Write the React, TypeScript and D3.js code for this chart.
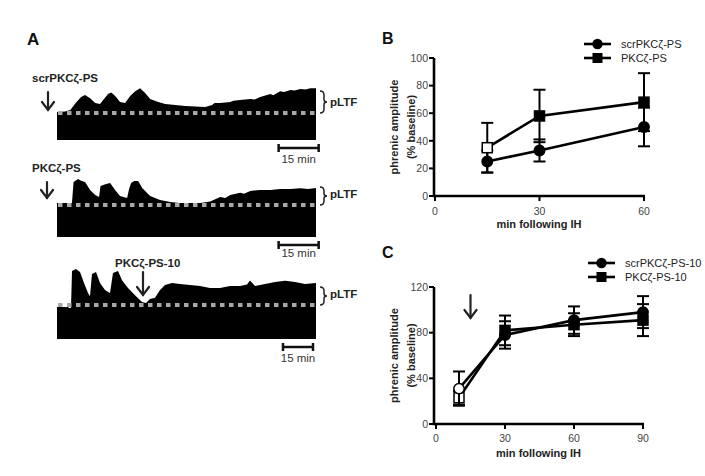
import React from "react";
import * as d3 from "d3";

// ---------- Data ----------
// Panel A traces: [time (min), integrated phrenic amplitude (% baseline)]
const TRACE1: [number, number][] = [
  [0, 104], [3, 106], [5, 111], [7, 137], [9, 159], [10.5, 167], [12.4, 155], [14.3, 137], [16.1, 133],
  [17.3, 148], [19.1, 170], [20.3, 176], [21.8, 163], [23.6, 141], [25.5, 137], [27.4, 163], [29.3, 181],
  [31.1, 192], [33, 174], [34.9, 152], [37.9, 141], [40.5, 133], [44.3, 130], [48, 126], [51.8, 124],
  [55.5, 122], [58.1, 130], [59, 137], [61.1, 137], [64.9, 141], [66, 145], [68.6, 148], [72.4, 152],
  [74, 150], [76.1, 159], [79.9, 170], [81, 166], [83.6, 181], [85, 178], [87.4, 185], [89, 183],
  [91.1, 189], [93, 187], [94.9, 192], [97, 192],
];
const TRACE2: [number, number][] = [
  [0, 106], [5.6, 106], [6.2, 172], [7.9, 181], [9, 176], [10.5, 172], [12.4, 147], [14.3, 131],
  [15.75, 125], [16.3, 159], [18.4, 166], [19.9, 169], [21.75, 147], [23.6, 128], [26.25, 122],
  [27, 150], [27.75, 169], [28.9, 175], [30.4, 175], [31.9, 153], [34.9, 128], [38.6, 116],
  [42.4, 109], [46.1, 106], [49.9, 106], [53.6, 106], [57.4, 111], [61.1, 125], [63, 122], [64.9, 131],
  [68.6, 138], [70, 135], [72.4, 144], [76.1, 147], [79.9, 147], [83.6, 150], [87.4, 150],
  [91.1, 152], [94, 150], [97, 153],
];
const TRACE3: [number, number][] = [
  [0, 94], [5.5, 94], [6, 91], [7, 91], [7.5, 200], [9.5, 206], [11.5, 197], [13.5, 165], [15.5, 135],
  [16.5, 126], [17.5, 191], [19.5, 197], [21.5, 165], [24, 144], [26.5, 135], [28, 194], [30.5, 200],
  [32.5, 173], [35.5, 150], [39, 129], [42.5, 109], [44.5, 106], [46.5, 118], [49, 121], [51.5, 144],
  [54, 159], [57.5, 165], [61.5, 162], [66.5, 159], [71.5, 156], [76.5, 150], [81.5, 150], [86.5, 156],
  [91.5, 156], [95, 160], [96.5, 172], [99, 156], [104, 162], [109, 168], [114, 171], [119, 168],
  [124, 162], [129.5, 165],
];
const TRACE_DURATIONS = [97, 97, 129.5];
const TRACE_LABELS = ["scrPKCζ-PS", "PKCζ-PS", "PKCζ-PS-10"];
const SCALE_BARS: [number, number][] = [[83, 98], [83, 98], [113, 128]];

// Panel B
const B_TIMES = [15, 30, 60];
const B_SCR_MEAN = [25, 33, 50];
const B_SCR_SEM = [8, 8, 14];
const B_PS_MEAN = [35, 58, 68];
const B_PS_SEM = [18, 19, 21];
const B_XTICKS = [0, 30, 60];
const B_YTICKS = [0, 20, 40, 60, 80, 100];
const B_OPEN = [true, false, false];

// Panel C
const C_TIMES = [10, 30, 60, 90];
const C_SCR_MEAN = [31, 78, 91, 98];
const C_SCR_SEM = [15, 12, 12, 14];
const C_PS_MEAN = [23, 82, 87, 91];
const C_PS_SEM = [6, 13, 10, 14];
const C_XTICKS = [0, 30, 60, 90];
const C_YTICKS = [0, 40, 80, 120];
const C_OPEN = [true, false, false, false];
const C_ARROW_TIME = 15;

const FONT = "'Liberation Sans', Arial, Helvetica, sans-serif";

function DownArrow({ x, y1, y2 }: { x: number; y1: number; y2: number }) {
  return (
    <g stroke="#222" strokeWidth={2.2} fill="none" strokeLinecap="round">
      <line x1={x} y1={y1} x2={x} y2={y2} />
      <polyline points={`${x - 6},${y2 - 8} ${x},${y2} ${x + 6},${y2 - 8}`} />
    </g>
  );
}

function Trace(props: {
  data: [number, number][]; dur: number; bottom: number; dash: number; label: string;
  labelX: number; labelY: number; arrowX: number; arrowY1: number; arrowY2: number;
  bar: [number, number]; barY: number; textY: number; braceTop: number; pltfY: number;
}) {
  const x = d3.scaleLinear().domain([0, props.dur]).range([57, 316]);
  const y = d3.scaleLinear().domain([0, 100]).range([props.bottom, props.dash]);
  const area = d3
    .area<[number, number]>()
    .x((d) => x(d[0]))
    .y0(() => y(0))
    .y1((d) => y(d[1]));
  const bt = props.braceTop, bb = props.dash;
  const bm = (bt + bb) / 2;
  const bx = 320;
  const brace = `M${bx},${bt} Q${bx + 4},${bt} ${bx + 4},${bt + 4} L${bx + 4},${bm - 2.5} Q${bx + 4},${bm} ${bx + 7},${bm} Q${bx + 4},${bm} ${bx + 4},${bm + 2.5} L${bx + 4},${bb - 4} Q${bx + 4},${bb} ${bx},${bb}`;
  const b0 = x(props.bar[0]), b1 = x(props.bar[1]);
  return (
    <g>
      <path d={area(props.data) || ""} fill="#000" />
      <line x1={58} x2={316} y1={y(100)} y2={y(100)} stroke="#a8a8a8" strokeWidth={4} strokeDasharray="4.5 4.5" />
      <text x={props.labelX} y={props.labelY} fontSize={11.5} fontWeight="bold" fill="#222">{props.label}</text>
      <DownArrow x={props.arrowX} y1={props.arrowY1} y2={props.arrowY2} />
      <path d={brace} fill="none" stroke="#222" strokeWidth={1.5} />
      <text x={330} y={props.pltfY} fontSize={11.5} fontWeight="bold" fill="#222">pLTF</text>
      <g stroke="#111" strokeWidth={2.5}>
        <line x1={b0} x2={b1} y1={props.barY} y2={props.barY} />
        <line x1={b0} x2={b0} y1={props.barY - 4} y2={props.barY + 4} />
        <line x1={b1} x2={b1} y1={props.barY - 4} y2={props.barY + 4} />
      </g>
      <text x={(b0 + b1) / 2} y={props.textY} fontSize={11.5} textAnchor="middle" fill="#333">15 min</text>
    </g>
  );
}

function Series(props: {
  xs: d3.ScaleLinear<number, number>; ys: d3.ScaleLinear<number, number>;
  t: number[]; mean: number[]; sem: number[]; shape: "circle" | "square"; open: boolean[];
}) {
  const { xs, ys, t, mean, sem, shape, open } = props;
  const line = d3.line<number>().x((_, i) => xs(t[i])).y((d) => ys(d));
  return (
    <g>
      <g stroke="#000" strokeWidth={2}>
        {mean.map((m, i) => (
          <g key={i}>
            <line x1={xs(t[i])} x2={xs(t[i])} y1={ys(m - sem[i])} y2={ys(m + sem[i])} />
            <line x1={xs(t[i]) - 6} x2={xs(t[i]) + 6} y1={ys(m - sem[i])} y2={ys(m - sem[i])} />
            <line x1={xs(t[i]) - 6} x2={xs(t[i]) + 6} y1={ys(m + sem[i])} y2={ys(m + sem[i])} />
          </g>
        ))}
      </g>
      <path d={line(mean) || ""} fill="none" stroke="#000" strokeWidth={2.6} />
      {mean.map((m, i) =>
        shape === "circle" ? (
          <circle key={i} cx={xs(t[i])} cy={ys(m)} r={5.2} fill={open[i] ? "#fff" : "#000"} stroke="#000" strokeWidth={1.5} />
        ) : (
          <rect key={i} x={xs(t[i]) - 5} y={ys(m) - 5} width={10} height={10} fill={open[i] ? "#fff" : "#000"} stroke="#000" strokeWidth={1.5} />
        )
      )}
    </g>
  );
}

function Axes(props: {
  xs: d3.ScaleLinear<number, number>; ys: d3.ScaleLinear<number, number>;
  xticks: number[]; yticks: number[]; axisX: number; xLabelY: number; titleY: number;
}) {
  const { xs, ys, xticks, yticks, axisX, xLabelY, titleY } = props;
  const y0 = ys(ys.domain()[0]);
  const yTop = ys(ys.domain()[1]);
  const xEnd = xs(xs.domain()[1]);
  const ymid = (y0 + yTop) / 2;
  return (
    <g fontFamily={FONT}>
      <line x1={axisX} x2={axisX} y1={yTop} y2={y0 + 1.2} stroke="#000" strokeWidth={2.6} />
      <line x1={axisX} x2={xEnd + 1} y1={y0} y2={y0} stroke="#000" strokeWidth={2.6} />
      {yticks.map((v) => (
        <g key={v}>
          <line x1={axisX - 5} x2={axisX} y1={ys(v)} y2={ys(v)} stroke="#000" strokeWidth={2} />
          <text x={axisX - 6} y={ys(v) + 3.8} fontSize={10.5} textAnchor="end" fill="#444">{v}</text>
        </g>
      ))}
      {xticks.map((v) => (
        <g key={v}>
          <line x1={xs(v)} x2={xs(v)} y1={y0} y2={y0 + 5} stroke="#000" strokeWidth={2} />
          <text x={xs(v)} y={xLabelY} fontSize={10.5} textAnchor="middle" fill="#444">{v}</text>
        </g>
      ))}
      <text x={(axisX + xEnd) / 2} y={titleY} fontSize={11} fontWeight="bold" textAnchor="middle" fill="#222">min following IH</text>
      <text transform={`translate(398,${ymid}) rotate(-90)`} fontSize={11} fontWeight="bold" textAnchor="middle" fill="#222">phrenic amplitude</text>
      <text transform={`translate(415,${ymid}) rotate(-90)`} fontSize={11} fontWeight="bold" textAnchor="middle" fill="#222">(% baseline)</text>
    </g>
  );
}

function Legend({ x, y, labels }: { x: number; y: number; labels: string[] }) {
  return (
    <g fontFamily={FONT}>
      {labels.map((l, i) => {
        const yy = y + i * 14;
        return (
          <g key={l}>
            <line x1={x} x2={x + 27} y1={yy} y2={yy} stroke="#000" strokeWidth={2.6} />
            {i === 0 ? (
              <circle cx={x + 13.5} cy={yy} r={5.2} fill="#000" />
            ) : (
              <rect x={x + 8.5} y={yy - 5} width={10} height={10} fill="#000" />
            )}
            <text x={x + 37} y={yy + 4} fontSize={11} fill="#222">{l}</text>
          </g>
        );
      })}
    </g>
  );
}

export default function App() {
  const xB = d3.scaleLinear().domain([0, 60]).range([435, 644]);
  const yB = d3.scaleLinear().domain([0, 100]).range([196, 58]);
  const xC = d3.scaleLinear().domain([0, 90]).range([436, 643]);
  const yC = d3.scaleLinear().domain([0, 120]).range([424, 287]);

  const traces = [
    { data: TRACE1, bottom: 140, dash: 113, labelX: 32, labelY: 82, arrowX: 48, arrowY1: 92, arrowY2: 110, barY: 148, textY: 163, braceTop: 91, pltfY: 106 },
    { data: TRACE2, bottom: 237, dash: 205, labelX: 32, labelY: 171.5, arrowX: 47, arrowY1: 182, arrowY2: 198, barY: 245, textY: 257, braceTop: 187, pltfY: 198 },
    { data: TRACE3, bottom: 339, dash: 305, labelX: 115, labelY: 267, arrowX: 143, arrowY1: 272, arrowY2: 295, barY: 347, textY: 362, braceTop: 287, pltfY: 298 },
  ];

  return (
    <svg width={705} height={476} style={{ position: "absolute", left: 0, top: 0, background: "#fff" }} fontFamily={FONT}>
      <rect width={705} height={476} fill="#fff" />
      <text x={27} y={45} fontSize={17} fontWeight="bold" fill="#111">A</text>
      <text x={382} y={43.5} fontSize={16} fontWeight="bold" fill="#111">B</text>
      <text x={382} y={258} fontSize={16} fontWeight="bold" fill="#111">C</text>

      {traces.map((tr, i) => (
        <Trace
          key={i}
          data={tr.data}
          dur={TRACE_DURATIONS[i]}
          bottom={tr.bottom}
          dash={tr.dash}
          label={TRACE_LABELS[i]}
          labelX={tr.labelX}
          labelY={tr.labelY}
          arrowX={tr.arrowX}
          arrowY1={tr.arrowY1}
          arrowY2={tr.arrowY2}
          bar={SCALE_BARS[i]}
          barY={tr.barY}
          textY={tr.textY}
          braceTop={tr.braceTop}
          pltfY={tr.pltfY}
        />
      ))}

      <Axes xs={xB} ys={yB} xticks={B_XTICKS} yticks={B_YTICKS} axisX={434} xLabelY={214.5} titleY={228} />
      <Series xs={xB} ys={yB} t={B_TIMES} mean={B_SCR_MEAN} sem={B_SCR_SEM} shape="circle" open={[false, false, false]} />
      <Series xs={xB} ys={yB} t={B_TIMES} mean={B_PS_MEAN} sem={B_PS_SEM} shape="square" open={B_OPEN} />
      <Legend x={584} y={44} labels={["scrPKCζ-PS", "PKCζ-PS"]} />

      <Axes xs={xC} ys={yC} xticks={C_XTICKS} yticks={C_YTICKS} axisX={434} xLabelY={442} titleY={457} />
      <Series xs={xC} ys={yC} t={C_TIMES} mean={C_PS_MEAN} sem={C_PS_SEM} shape="square" open={C_OPEN} />
      <Series xs={xC} ys={yC} t={C_TIMES} mean={C_SCR_MEAN} sem={C_SCR_SEM} shape="circle" open={C_OPEN} />
      <DownArrow x={xC(C_ARROW_TIME)} y1={295} y2={318} />
      <Legend x={588} y={263} labels={["scrPKCζ-PS-10", "PKCζ-PS-10"]} />
    </svg>
  );
}
